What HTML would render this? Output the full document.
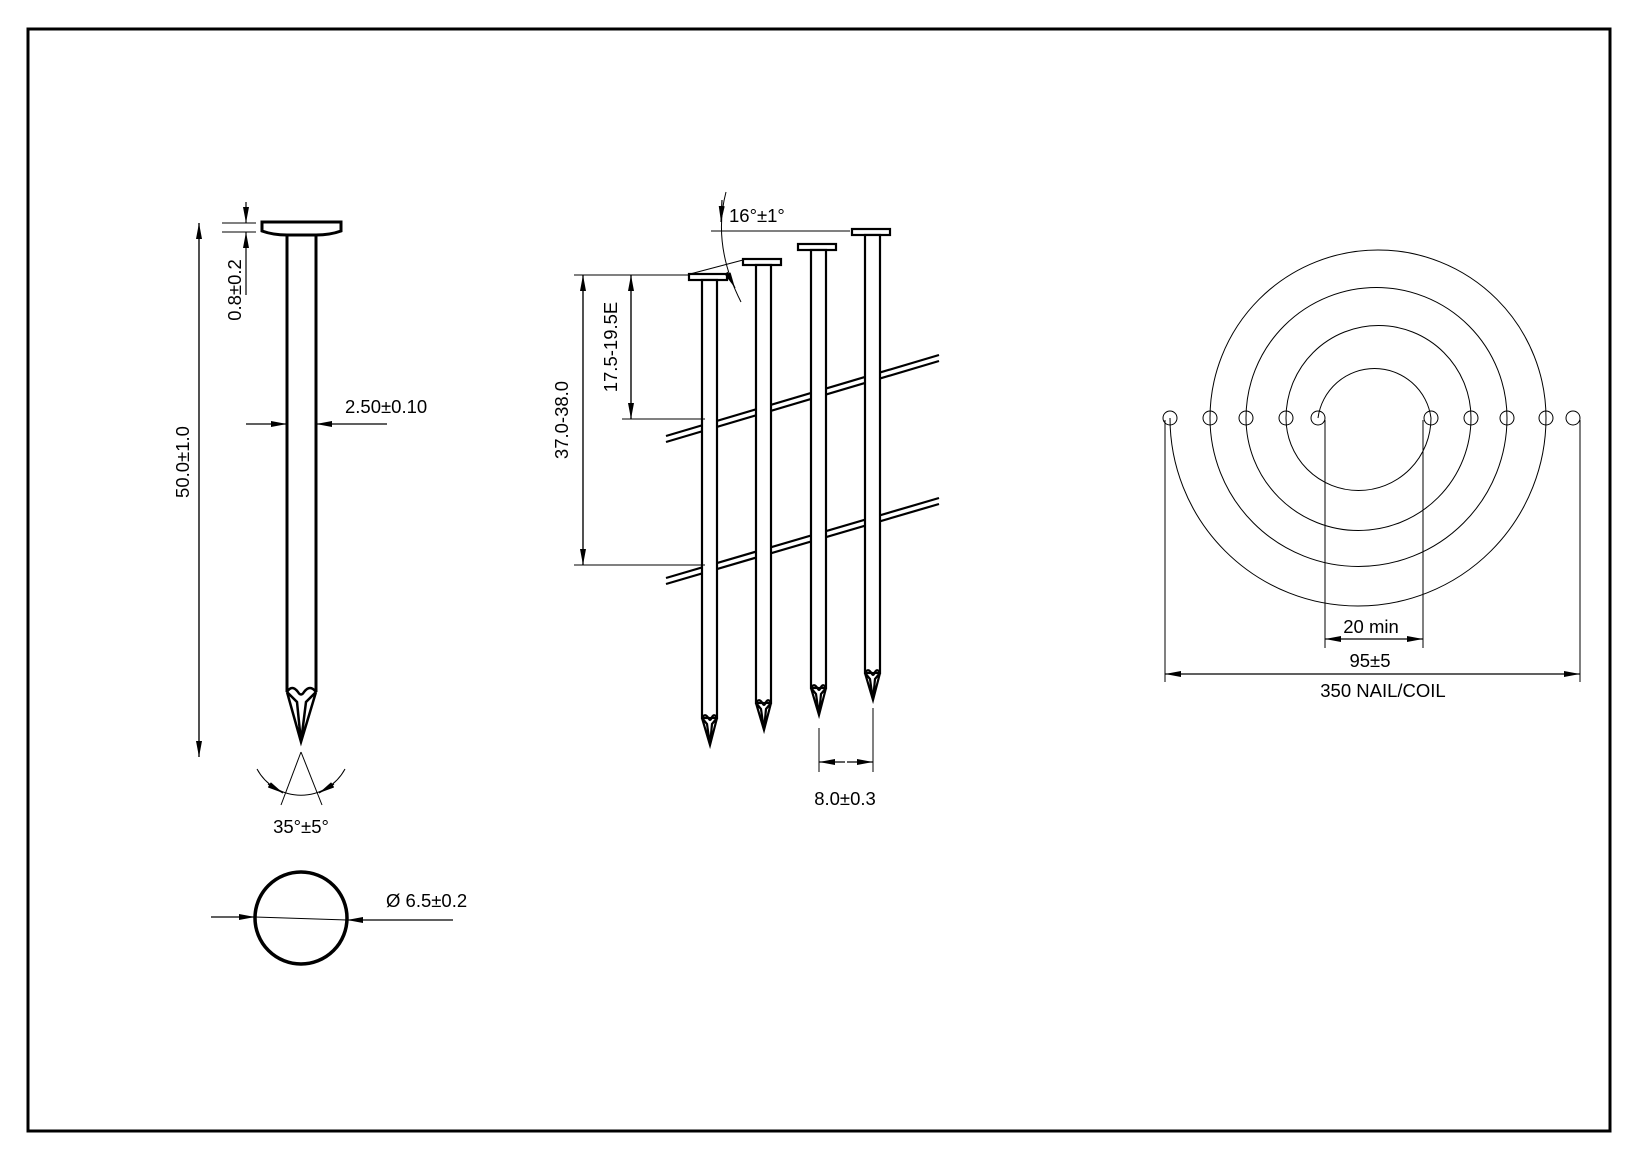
<!DOCTYPE html>
<html><head><meta charset="utf-8"><style>
html,body{margin:0;padding:0;background:#fff;width:1639px;height:1161px;overflow:hidden}
svg{display:block}
text{font-family:"Liberation Sans",sans-serif;font-size:18.5px;fill:#000}
</style></head><body>
<svg width="1639" height="1161" viewBox="0 0 1639 1161" xmlns="http://www.w3.org/2000/svg">
<defs>
<marker id="a" viewBox="0 0 16 6" refX="16" refY="3" markerWidth="16" markerHeight="6" markerUnits="userSpaceOnUse" orient="auto"><path d="M0,0 L16,3 L0,6 Z" fill="#000"/></marker>
</defs>
<rect x="28" y="29" width="1582" height="1102" fill="none" stroke="#000" stroke-width="3"/>

<!-- Left nail -->
<g stroke="#000" fill="none">
<path d="M262,222 H341 V231 Q330,235 316,235 H287 Q273,235 262,231 Z" stroke-width="3" fill="#fff"/>
<line x1="286" y1="235" x2="316" y2="235" stroke-width="1"/>
<line x1="287" y1="236" x2="287" y2="692" stroke-width="3"/>
<line x1="316" y1="236" x2="316" y2="692" stroke-width="3"/>
<path d="M287,692 L301,742 L316,692 M287,692 Q292,684 298,692 Q301,697 304,692 Q310,684 316,692 M287,692 L297,702 L301,742 M316,692 L306,702 L301,742" stroke-width="2.5"/>
<!-- 50 dim -->
<line x1="199" y1="223" x2="199" y2="757" stroke-width="1.2" marker-end="url(#a)"/>
<line x1="199" y1="757" x2="199" y2="223" stroke-width="1.2" marker-end="url(#a)"/>
<!-- 0.8 dim -->
<line x1="222" y1="223" x2="256" y2="223" stroke-width="1"/>
<line x1="222" y1="232" x2="256" y2="232" stroke-width="1"/>
<line x1="246" y1="202" x2="246" y2="223" stroke-width="1.2" marker-end="url(#a)"/>
<line x1="246" y1="295" x2="246" y2="232" stroke-width="1.2" marker-end="url(#a)"/>
<!-- 2.50 dim -->
<line x1="246" y1="424" x2="287" y2="424" stroke-width="1.2" marker-end="url(#a)"/>
<line x1="387" y1="424" x2="316" y2="424" stroke-width="1.2" marker-end="url(#a)"/>
<!-- angle -->
<line x1="301" y1="752" x2="281" y2="805" stroke-width="1"/>
<line x1="301" y1="752" x2="322" y2="805" stroke-width="1"/>
<path d="M257,769 A50,50 0 0 0 345,769" stroke-width="1"/>
<line x1="268" y1="784" x2="283" y2="793" stroke-width="1.2" marker-end="url(#a)"/>
<line x1="334" y1="784" x2="319" y2="793" stroke-width="1.2" marker-end="url(#a)"/>
<!-- circle -->
<circle cx="301" cy="918" r="46" stroke-width="3.5"/>
<line x1="211" y1="917" x2="255" y2="917" stroke-width="1.2" marker-end="url(#a)"/>
<line x1="453" y1="920" x2="347" y2="920" stroke-width="1.2" marker-end="url(#a)"/>
<line x1="255" y1="917" x2="347" y2="920" stroke-width="1"/>
</g>
<text x="236" y="290" transform="rotate(-90 236 290)" text-anchor="middle" dominant-baseline="middle">0.8±0.2</text>
<text x="184" y="462" transform="rotate(-90 184 462)" text-anchor="middle" dominant-baseline="middle">50.0±1.0</text>
<text x="345" y="413">2.50±0.10</text>
<text x="301" y="833" text-anchor="middle">35°±5°</text>
<text x="386" y="907">Ø 6.5±0.2</text>

<!-- Middle nails -->
<g stroke="#000" fill="#fff" stroke-width="2.2">
<line x1="666" y1="436" x2="939" y2="355" fill="none"/>
<line x1="666" y1="442" x2="939" y2="361" fill="none"/>
<line x1="666" y1="578" x2="939" y2="498" fill="none"/>
<line x1="666" y1="584" x2="939" y2="504" fill="none"/>
<g id="n">
<rect x="689" y="274" width="38" height="6"/>
<rect x="702" y="280" width="15" height="438"/>
<path d="M702,718 L710,745 L717,718 M702,718 Q705,712 709,719 Q710,721 711,719 Q714,712 717,718 M702,718 L707,724 L710,745 M717,718 L712,724 L710,745" fill="none"/>
</g>
<use href="#n" transform="translate(54,-15)"/>
<use href="#n" transform="translate(109,-30)"/>
<use href="#n" transform="translate(163,-45)"/>
</g>
<g stroke="#000" fill="none" stroke-width="1">
<line x1="574" y1="275" x2="690" y2="275"/>
<line x1="574" y1="565" x2="705" y2="565"/>
<line x1="622" y1="419" x2="705" y2="419"/>
<line x1="583" y1="565" x2="583" y2="275" stroke-width="1.2" marker-end="url(#a)"/>
<line x1="583" y1="275" x2="583" y2="565" stroke-width="1.2" marker-end="url(#a)"/>
<line x1="631" y1="419" x2="631" y2="275" stroke-width="1.2" marker-end="url(#a)"/>
<line x1="631" y1="275" x2="631" y2="419" stroke-width="1.2" marker-end="url(#a)"/>
<line x1="711" y1="231" x2="850" y2="231"/>
<line x1="690" y1="274" x2="743" y2="260"/>
<path d="M726,192 Q712,245 741,302"/>
<line x1="722" y1="200" x2="721" y2="222" stroke-width="1.2" marker-end="url(#a)"/>
<line x1="727" y1="272" x2="735" y2="288" stroke-width="1.2" marker-end="url(#a)"/>
<line x1="819" y1="728" x2="819" y2="772"/>
<line x1="873" y1="708" x2="873" y2="772"/>
<line x1="845" y1="762" x2="819" y2="762" stroke-width="1.2" marker-end="url(#a)"/>
<line x1="847" y1="762" x2="873" y2="762" stroke-width="1.2" marker-end="url(#a)"/>
</g>
<text x="563" y="420" transform="rotate(-90 563 420)" text-anchor="middle" dominant-baseline="middle">37.0-38.0</text>
<text x="612" y="347" transform="rotate(-90 612 347)" text-anchor="middle" dominant-baseline="middle">17.5-19.5E</text>
<text x="729" y="222">16°±1°</text>
<text x="845" y="805" text-anchor="middle">8.0±0.3</text>

<!-- Coil -->
<g stroke="#000" fill="none" stroke-width="1">
<path d="M1210,418 A168,168 0 0 1 1546,418"/>
<path d="M1246,418 A130,130 0 0 1 1507,418"/>
<path d="M1286,418 A92,92 0 0 1 1471,418"/>
<path d="M1318,418 A57,57 0 0 1 1431,418"/>
<path d="M1170,418 A188,188 0 0 0 1546,418"/>
<path d="M1210,418 A148,148 0 0 0 1507,418"/>
<path d="M1246,418 A112,112 0 0 0 1471,418"/>
<path d="M1286,418 A72,72 0 0 0 1431,418"/>
<circle cx="1170" cy="418" r="7"/><circle cx="1210" cy="418" r="7"/><circle cx="1246" cy="418" r="7"/><circle cx="1286" cy="418" r="7"/><circle cx="1318" cy="418" r="7"/>
<circle cx="1431" cy="418" r="7"/><circle cx="1471" cy="418" r="7"/><circle cx="1507" cy="418" r="7"/><circle cx="1546" cy="418" r="7"/><circle cx="1573" cy="418" r="7"/>
<line x1="1165" y1="420" x2="1165" y2="682"/>
<line x1="1580" y1="420" x2="1580" y2="682"/>
<line x1="1325" y1="420" x2="1325" y2="648"/>
<line x1="1423" y1="420" x2="1423" y2="648"/>
<line x1="1374" y1="639" x2="1325" y2="639" stroke-width="1.2" marker-end="url(#a)"/>
<line x1="1374" y1="639" x2="1423" y2="639" stroke-width="1.2" marker-end="url(#a)"/>
<line x1="1372" y1="674" x2="1165" y2="674" stroke-width="1.2" marker-end="url(#a)"/>
<line x1="1372" y1="674" x2="1580" y2="674" stroke-width="1.2" marker-end="url(#a)"/>
</g>
<text x="1371" y="633" text-anchor="middle">20 min</text>
<text x="1370" y="667" text-anchor="middle">95±5</text>
<text x="1383" y="697" text-anchor="middle">350 NAIL/COIL</text>
</svg>
</body></html>
